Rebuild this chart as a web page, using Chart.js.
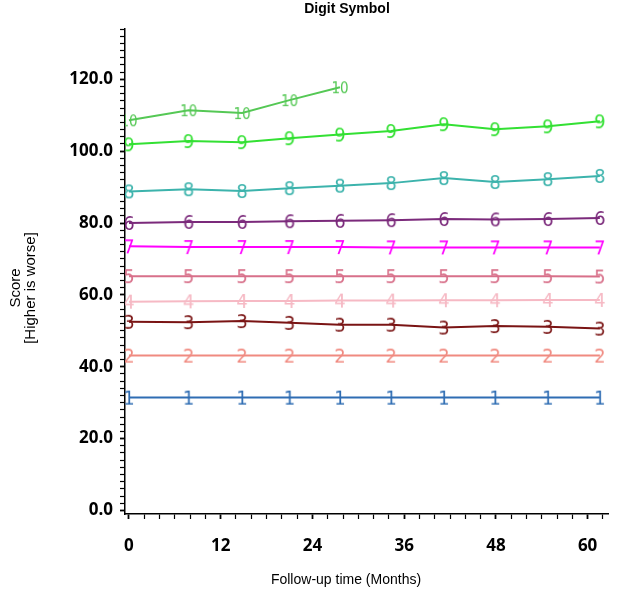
<!DOCTYPE html>
<html>
<head>
<meta charset="utf-8">
<script src="https://cdn.jsdelivr.net/npm/chart.js@4"></script>
<style>
  html, body { margin: 0; padding: 0; background: #fff; }
  canvas { display: block; }
</style>
</head>
<body>
<canvas id="chart" width="620" height="602"></canvas>
<script>
// visit times (months) and mean score per group
const months = [0, 7.8, 14.8, 21, 27.6, 34.3, 41.2, 47.9, 54.8, 61.6];
const group1 = [31.4, 31.4, 31.4, 31.4, 31.4, 31.4, 31.4, 31.4, 31.4, 31.4];
const group2 = [43.1, 43.1, 43.1, 43.1, 43.1, 43.1, 43.1, 43.1, 43.1, 43.1];
const group3 = [52.5, 52.4, 52.7, 52.2, 51.7, 51.7, 50.9, 51.3, 51.1, 50.6];
const group4 = [58.1, 58.2, 58.3, 58.3, 58.4, 58.4, 58.5, 58.5, 58.6, 58.6];
const group5 = [65.2, 65.2, 65.2, 65.2, 65.2, 65.2, 65.2, 65.2, 65.2, 65.1];
const group6 = [80.0, 80.3, 80.3, 80.5, 80.6, 80.8, 81.1, 81.0, 81.1, 81.4];
const group7 = [73.5, 73.3, 73.3, 73.3, 73.3, 73.2, 73.2, 73.2, 73.2, 73.2];
const group8 = [88.8, 89.4, 88.9, 89.7, 90.4, 91.1, 92.5, 91.4, 92.2, 93.1];
const group9 = [101.9, 102.8, 102.5, 103.6, 104.6, 105.6, 107.5, 106.1, 106.9, 108.3];
const group10 = [108.6, 111.4, 110.6, 114.2, 117.8];

const xLabels = [0, 12, 24, 36, 48, 60];
const yLabels = [0, 20, 40, 60, 80, 100, 120];

const groups = [
  { label: "1", values: group1, color: "#2f6db3" },
  { label: "2", values: group2, color: "#f08a80" },
  { label: "3", values: group3, color: "#7a1414" },
  { label: "4", values: group4, color: "#f6b9c4" },
  { label: "5", values: group5, color: "#d8708a" },
  { label: "6", values: group6, color: "#7b2a7b" },
  { label: "7", values: group7, color: "#ff00ff" },
  { label: "8", values: group8, color: "#3cb3ac" },
  { label: "9", values: group9, color: "#33e033" },
  { label: "10", values: group10, color: "#55c855" },
];

function digitMarker(text, color) {
  const c = document.createElement("canvas");
  const big = text.length > 1;
  c.width = big ? 18 : 14;
  c.height = 26;
  const g = c.getContext("2d");
  g.fillStyle = color;
  g.font = (big ? "15px" : "20px") + ' "DejaVu Sans Condensed", "Liberation Sans Narrow", sans-serif';
  g.textAlign = "center";
  g.textBaseline = "middle";
  g.fillText(text, c.width / 2, c.height / 2 + 2);
  return c;
}

function minorTicks(from, to, step) {
  const out = [];
  for (let v = from; v <= to; v += step) out.push({ value: v });
  return out;
}

const titles = {
  id: "titles",
  afterDraw(chart) {
    const g = chart.ctx;
    g.save();
    g.fillStyle = "#000";
    g.textAlign = "center";
    g.textBaseline = "middle";
    g.font = 'bold 14px "Liberation Sans", Arial, sans-serif';
    g.fillText("Digit Symbol", 347, 9);
    g.font = '14px "Liberation Sans", Arial, sans-serif';
    g.fillText("Follow-up time (Months)", 346, 580);
    g.translate(16, 288);
    g.rotate(-Math.PI / 2);
    g.font = '15px "Liberation Sans", Arial, sans-serif';
    g.fillText("Score", 0, 0);
    g.fillText("[Higher is worse]", 0, 15);
    g.restore();
  },
};

const tickFont = { family: '"Open Sans", "Liberation Sans", sans-serif', size: 17, weight: "bold" };

new Chart(document.getElementById("chart"), {
  type: "line",
  data: {
    datasets: groups.map((grp) => ({
      label: grp.label,
      data: grp.values.map((v, i) => ({ x: months[i], y: v })),
      borderColor: grp.color,
      backgroundColor: grp.color,
      borderWidth: 2,
      pointStyle: digitMarker(grp.label, grp.color),
      pointRadius: 6,
      tension: 0,
      fill: false,
    })),
  },
  options: {
    responsive: false,
    animation: false,
    layout: { padding: { top: 29, right: 8, left: 0, bottom: 0 } },
    plugins: {
      legend: { display: false },
      tooltip: { enabled: false },
    },
    scales: {
      x: {
        type: "linear",
        min: -0.52,
        max: 62.7,
        afterBuildTicks(scale) {
          scale.ticks = minorTicks(0, 62, 2);
        },
        afterFit(scale) {
          scale.height = 88;
        },
        border: { color: "#000", width: 1.5 },
        grid: {
          drawOnChartArea: false,
          tickLength: 5,
          color: "#000",
          tickWidth: (ctx) => (ctx.tick && xLabels.includes(ctx.tick.value) ? 1.8 : 1.2),
        },
        ticks: {
          autoSkip: false,
          maxRotation: 0,
          padding: 17,
          color: "#000",
          font: tickFont,
          callback: (v) => (xLabels.includes(v) ? String(v) : ""),
        },
      },
      y: {
        min: -1,
        max: 134,
        afterBuildTicks(scale) {
          scale.ticks = minorTicks(0, 134, 2);
        },
        afterFit(scale) {
          scale.width = 125;
        },
        border: { color: "#000", width: 1.5 },
        grid: {
          drawOnChartArea: false,
          tickLength: 5,
          color: "#000",
          tickWidth: (ctx) => (ctx.tick && yLabels.includes(ctx.tick.value) ? 1.8 : 1.2),
        },
        ticks: {
          autoSkip: false,
          padding: 7,
          color: "#000",
          font: tickFont,
          callback: (v) => (yLabels.includes(v) ? v.toFixed(1) : ""),
        },
      },
    },
  },
  plugins: [titles],
});
</script>
</body>
</html>
